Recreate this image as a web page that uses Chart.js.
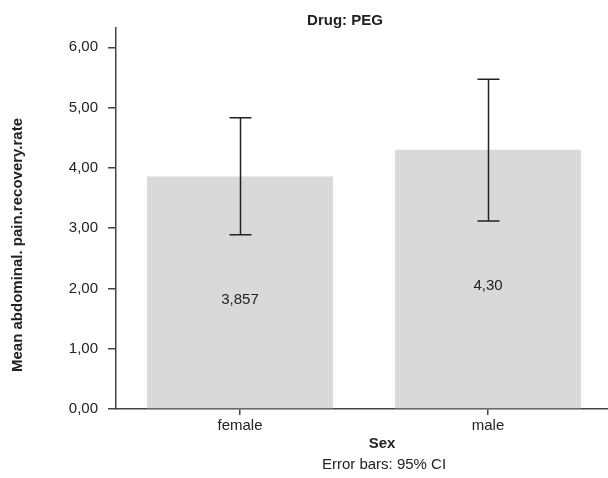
<!DOCTYPE html>
<html>
<head>
<meta charset="utf-8">
<script src="https://cdn.jsdelivr.net/npm/chart.js@4"></script>
<style>
  html, body { margin: 0; padding: 0; background: #fff; overflow: hidden; }
  #wrap { width: 612px; height: 478px; }
</style>
</head>
<body>
<div id="wrap"><canvas id="chartCanvas" width="612" height="478"></canvas></div>
<script>
// values
const categories = ['female', 'male'];
const meanValues = [3.857, 4.30];
const ciLower = [2.89, 3.12];
const ciUpper = [4.83, 5.47];
const valueLabels = ['3,857', '4,30'];
const yTicks = [0, 1, 2, 3, 4, 5, 6];

const fontFamily = "'Liberation Sans', Arial, sans-serif";

// error bars + value labels + titles
const extrasPlugin = {
  id: 'extras',
  afterDatasetsDraw(chart) {
    const ctx = chart.ctx;
    const x = chart.scales.x, y = chart.scales.y;
    const meta = chart.getDatasetMeta(0);

    ctx.save();
    // labels inside the bars
    ctx.fillStyle = '#222';
    ctx.font = '15px ' + fontFamily;
    ctx.textAlign = 'center';
    ctx.textBaseline = 'middle';
    meta.data.forEach(function(bar, i) {
      ctx.fillText(valueLabels[i], bar.x, (bar.y + bar.base) / 2 + 7);
    });

    // 95% CI error bars
    ctx.strokeStyle = '#222';
    ctx.lineWidth = 1.5;
    for (let i = 0; i < categories.length; i++) {
      let cx = Math.round(x.getPixelForValue(i)) + 0.5;
      let top = y.getPixelForValue(ciUpper[i]);
      let bot = y.getPixelForValue(ciLower[i]);
      ctx.beginPath();
      ctx.moveTo(cx, top); ctx.lineTo(cx, bot);
      ctx.moveTo(cx - 11, top); ctx.lineTo(cx + 11, top);
      ctx.moveTo(cx - 11, bot); ctx.lineTo(cx + 11, bot);
      ctx.stroke();
    }

    // titles
    ctx.font = 'bold 15px ' + fontFamily;
    ctx.fillText('Drug: PEG', 345, 21);
    ctx.fillText('Sex', 382, 444);
    ctx.font = '15px ' + fontFamily;
    ctx.fillText('Error bars: 95% CI', 384, 465);

    ctx.translate(18, 245);
    ctx.rotate(-Math.PI / 2);
    ctx.font = 'bold 15px ' + fontFamily;
    ctx.fillText('Mean abdominal. pain.recovery.rate', 0, 0);
    ctx.restore();
  }
};

let ctx = document.getElementById('chartCanvas').getContext('2d');

let barChart = new Chart(ctx, {
  type: 'bar',
  data: {
    labels: categories,
    datasets: [{
      data: meanValues,
      backgroundColor: '#d9d9d9',
      borderWidth: 0,
      barPercentage: 0.75,
      categoryPercentage: 1.0
    }]
  },
  options: {
    responsive: false,
    animation: false,
    devicePixelRatio: 1,
    layout: { padding: { left: 0, top: 28, right: 0, bottom: 0 } },
    plugins: {
      legend: { display: false },
      tooltip: { enabled: false },
      title: { display: false }
    },
    scales: {
      x: {
        grid: { offset: false, drawOnChartArea: false, drawTicks: true, tickLength: 6, tickColor: '#444', lineWidth: 1.5 },
        border: { display: true, color: '#444', width: 1.5 },
        ticks: { color: '#222', padding: 2, font: { family: fontFamily, size: 15 } },
        afterFit(scale) { scale.height = 69; }
      },
      y: {
        min: 0,
        max: 6.32,
        afterBuildTicks(axis) { axis.ticks = yTicks.map(v => ({ value: v })); },
        grid: { drawOnChartArea: false, drawTicks: true, tickLength: 8, tickColor: '#444', lineWidth: 1.5 },
        border: { display: true, color: '#444', width: 1.5 },
        ticks: {
          color: '#222',
          padding: 10,
          font: { family: fontFamily, size: 15 },
          callback: v => v.toFixed(2).replace('.', ',')
        },
        afterFit(scale) { scale.width = 116; }
      }
    }
  },
  plugins: [extrasPlugin]
});
</script>
</body>
</html>
